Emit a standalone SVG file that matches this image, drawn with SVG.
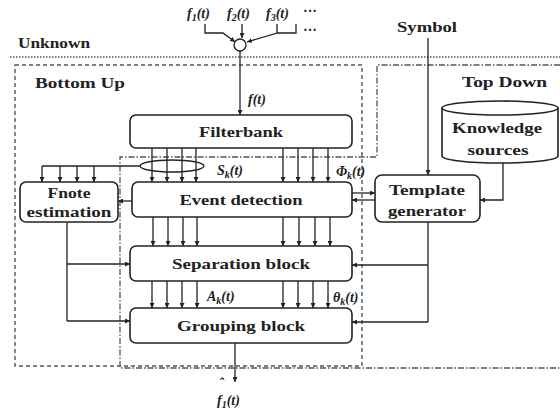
<svg xmlns="http://www.w3.org/2000/svg" width="560" height="418" viewBox="0 0 560 418">
<style>
.bx{fill:#fff;stroke:#222;stroke-width:1.6}
.ln{fill:none;stroke:#222;stroke-width:1.3}
.t{font-family:"Liberation Serif",serif;font-weight:bold;font-size:15px;fill:#222;text-anchor:middle}
.s{font-family:"Liberation Serif",serif;font-weight:bold;font-size:14px;fill:#222}
.i{font-family:"Liberation Serif",serif;font-weight:bold;font-style:italic;font-size:14px;fill:#222}
.dot{fill:none;stroke:#555;stroke-width:1.6;stroke-dasharray:1.5,1.5}
.dash{fill:none;stroke:#555;stroke-width:1.4;stroke-dasharray:4,3}
.dd{fill:none;stroke:#555;stroke-width:1.3;stroke-dasharray:6,2,1.5,2}
</style>
<defs>
<marker id="a" viewBox="0 0 8 8" refX="8" refY="4" markerWidth="5" markerHeight="5" markerUnits="userSpaceOnUse" orient="auto">
<path d="M0,0 L8,4 L0,8 z" fill="#222"/>
</marker>
</defs>
<rect width="560" height="418" fill="#fff"/>

<g id="regions">
<line class="dot" x1="10" y1="57" x2="560" y2="57"/>
<text class="s" x="18" y="48" textLength="72" lengthAdjust="spacingAndGlyphs">Unknown</text>
<rect class="dash" x="15" y="65" width="347" height="301"/>
<text class="s" x="35" y="88" textLength="90" lengthAdjust="spacingAndGlyphs">Bottom Up</text>
<path class="dd" d="M560,65 H377 V157 H120 V368 H560"/>
<text class="s" x="462" y="87" textLength="85" lengthAdjust="spacingAndGlyphs">Top Down</text>
</g>

<g id="connectors">
<path class="ln" d="M205,24 V33 H223 L235,42" marker-end="url(#a)"/>
<path class="ln" d="M242,24 V38" marker-end="url(#a)"/>
<path class="ln" d="M277,24 V33 L247,42" marker-end="url(#a)"/>
<path class="ln" d="M296,24 V33 H277"/>
<path class="ln" d="M240,51 V115" marker-end="url(#a)"/>
<path class="ln" d="M428,38 V175" marker-end="url(#a)"/>
<path class="ln" d="M503,162 V200 H480" marker-end="url(#a)"/>
<g class="ln" marker-end="url(#a)">
<line x1="152" y1="148" x2="152" y2="182"/>
<line x1="167" y1="148" x2="167" y2="182"/>
<line x1="182" y1="148" x2="182" y2="182"/>
<line x1="196" y1="148" x2="196" y2="182"/>
<line x1="283" y1="148" x2="283" y2="182"/>
<line x1="298" y1="148" x2="298" y2="182"/>
<line x1="313" y1="148" x2="313" y2="182"/>
<line x1="328" y1="148" x2="328" y2="182"/>
</g>
<ellipse class="ln" cx="172" cy="166" rx="32" ry="6"/>
<path class="ln" d="M140,166 H42"/>
<g class="ln" marker-end="url(#a)">
<line x1="42" y1="166" x2="42" y2="182"/>
<line x1="60" y1="166" x2="60" y2="182"/>
<line x1="77" y1="166" x2="77" y2="182"/>
<line x1="94" y1="166" x2="94" y2="182"/>
</g>
<path class="ln" d="M132,201 H118" marker-end="url(#a)"/>
<path class="ln" d="M352,193 H375" marker-end="url(#a)"/>
<path class="ln" d="M375,200 H352" marker-end="url(#a)"/>
<g class="ln" marker-end="url(#a)">
<line x1="153" y1="217" x2="153" y2="246"/>
<line x1="168" y1="217" x2="168" y2="246"/>
<line x1="183" y1="217" x2="183" y2="246"/>
<line x1="197" y1="217" x2="197" y2="246"/>
<line x1="283" y1="217" x2="283" y2="246"/>
<line x1="299" y1="217" x2="299" y2="246"/>
<line x1="315" y1="217" x2="315" y2="246"/>
<line x1="330" y1="217" x2="330" y2="246"/>
</g>
<g class="ln" marker-end="url(#a)">
<line x1="152" y1="281" x2="152" y2="308"/>
<line x1="167" y1="281" x2="167" y2="308"/>
<line x1="182" y1="281" x2="182" y2="308"/>
<line x1="197" y1="281" x2="197" y2="308"/>
<line x1="283" y1="281" x2="283" y2="308"/>
<line x1="298" y1="281" x2="298" y2="308"/>
<line x1="313" y1="281" x2="313" y2="308"/>
<line x1="328" y1="281" x2="328" y2="308"/>
</g>
<path class="ln" d="M67,222 V321"/>
<path class="ln" d="M67,264 H130" marker-end="url(#a)"/>
<path class="ln" d="M67,321 H130" marker-end="url(#a)"/>
<path class="ln" d="M428,222 V322"/>
<path class="ln" d="M428,265 H352" marker-end="url(#a)"/>
<path class="ln" d="M428,322 H352" marker-end="url(#a)"/>
<path class="ln" d="M235,343 V382" marker-end="url(#a)"/>
</g>

<g id="sum">
<circle class="ln" cx="240" cy="45" r="6"/>
</g>

<g id="labels">
<text class="i" x="187" y="18">f<tspan font-size="10" dy="3">1</tspan><tspan dy="-3">(t)</tspan></text>
<text class="i" x="227" y="18">f<tspan font-size="10" dy="3">2</tspan><tspan dy="-3">(t)</tspan></text>
<text class="i" x="266" y="18">f<tspan font-size="10" dy="3">3</tspan><tspan dy="-3">(t)</tspan></text>
<text class="s" x="303" y="16" font-size="11">···</text>
<text class="s" x="303" y="35" font-size="11">···</text>
<text class="i" x="248" y="104">f(t)</text>
<text class="i" x="217" y="175">S<tspan font-size="10" dy="3">k</tspan><tspan dy="-3">(t)</tspan></text>
<text class="i" x="336" y="176">Φ<tspan font-size="10" dy="3">k</tspan><tspan dy="-3">(t)</tspan></text>
<text class="i" x="207" y="301">A<tspan font-size="10" dy="3">k</tspan><tspan dy="-3">(t)</tspan></text>
<text class="i" x="333" y="302">θ<tspan font-size="10" dy="3">k</tspan><tspan dy="-3">(t)</tspan></text>
<text class="i" x="219" y="388" font-size="11">ˆ</text>
<text class="i" x="217" y="405">f<tspan font-size="10" dy="3">1</tspan><tspan dy="-3">(t)</tspan></text>
<text class="s" x="397" y="32" textLength="60" lengthAdjust="spacingAndGlyphs">Symbol</text>
</g>

<g id="filterbank">
<rect class="bx" x="130" y="115" width="222" height="33" rx="6"/>
<text class="t" x="241" y="137" textLength="84" lengthAdjust="spacingAndGlyphs">Filterbank</text>
</g>
<g id="event">
<rect class="bx" x="132" y="182" width="220" height="35" rx="6"/>
<text class="t" x="241" y="205" textLength="123" lengthAdjust="spacingAndGlyphs">Event detection</text>
</g>
<g id="separation">
<rect class="bx" x="130" y="246" width="222" height="35" rx="6"/>
<text class="t" x="241" y="269" textLength="138" lengthAdjust="spacingAndGlyphs">Separation block</text>
</g>
<g id="grouping">
<rect class="bx" x="130" y="308" width="222" height="35" rx="6"/>
<text class="t" x="241" y="331" textLength="128" lengthAdjust="spacingAndGlyphs">Grouping block</text>
</g>
<g id="fnote">
<rect class="bx" x="20" y="182" width="98" height="40" rx="6" stroke-width="2.2"/>
<text class="t" x="69" y="198" textLength="43" lengthAdjust="spacingAndGlyphs">Fnote</text>
<text class="t" x="69" y="217" textLength="85" lengthAdjust="spacingAndGlyphs">estimation</text>
</g>
<g id="template">
<rect class="bx" x="375" y="175" width="105" height="47" rx="7"/>
<text class="t" x="427" y="195" textLength="76" lengthAdjust="spacingAndGlyphs">Template</text>
<text class="t" x="427" y="216" textLength="78" lengthAdjust="spacingAndGlyphs">generator</text>
</g>
<g id="knowledge">
<path class="bx" d="M442,108 V156 A58,7 0 0 0 558,156 V108"/>
<ellipse class="bx" cx="500" cy="108" rx="58" ry="7"/>
<text class="t" x="497" y="133" textLength="90" lengthAdjust="spacingAndGlyphs">Knowledge</text>
<text class="t" x="498" y="155" textLength="61" lengthAdjust="spacingAndGlyphs">sources</text>
</g>
</svg>
